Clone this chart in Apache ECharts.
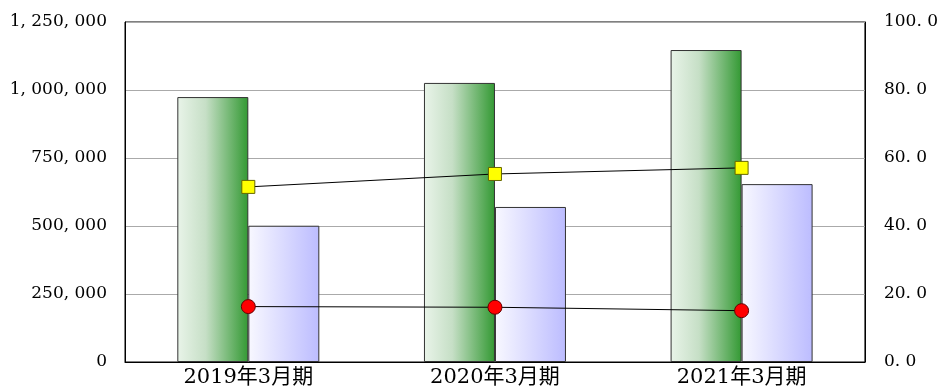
<!DOCTYPE html>
<html>
<head>
<meta charset="utf-8">
<script src="https://cdn.jsdelivr.net/npm/echarts@6/dist/echarts.min.js"></script>
<style>
  html, body { margin: 0; padding: 0; background: #fff; }
  #chart { width: 941px; height: 392px; }
</style>
</head>
<body>
<div id="chart"></div>
<script>
  // data
  const categories = ["2019年3月期", "2020年3月期", "2021年3月期"];
  const greenBars = [974000, 1026000, 1147000];
  const blueBars = [501000, 570000, 654000];
  const squareLine = [51.5, 55.3, 57.1];
  const circleLine = [16.3, 16.1, 15.1];

  const FONT = "'DejaVu Serif', 'Noto Sans CJK JP', serif";

  const chart = echarts.init(document.getElementById("chart"), null, { renderer: "canvas" });
  chart.setOption({
    animation: false,
    grid: { left: 125, right: 75, top: 22, bottom: 30, show: true, borderColor: "#000", borderWidth: 1 },
    xAxis: {
      type: "category", data: categories,
      axisLine: { lineStyle: { color: "#000" } },
      axisTick: { show: false },
      axisLabel: { color: "#000", fontFamily: FONT, fontSize: 21, margin: 5 }
    },
    yAxis: [
      {
        type: "value", min: 0, max: 1250000, interval: 250000,
        axisLine: { show: true, lineStyle: { color: "#000" } },
        axisTick: { show: false },
        axisLabel: {
          color: "#000", fontFamily: FONT, fontSize: 17, margin: 18,
          formatter: (v) => v.toLocaleString("en-US").replace(/,/g, ", ")
        },
        splitLine: { lineStyle: { color: "#aaa" } }
      },
      {
        type: "value", min: 0, max: 100, interval: 20,
        axisLine: { show: true, lineStyle: { color: "#000" } },
        axisTick: { show: false },
        axisLabel: {
          color: "#000", fontFamily: FONT, fontSize: 17, margin: 19,
          formatter: (v) => v.toFixed(1).replace(".", ". ")
        },
        splitLine: { show: false }
      }
    ],
    series: [
      {
        type: "bar", data: greenBars, barWidth: 71, barGap: "0%",
        itemStyle: {
          borderColor: "#333", borderWidth: 1,
          color: new echarts.graphic.LinearGradient(0, 0, 1, 0, [
            { offset: 0, color: "#e9f4e9" },
            { offset: 0.4, color: "#c6dfc6" },
            { offset: 1, color: "#339933" }
          ])
        }
      },
      {
        type: "bar", data: blueBars, barWidth: 71,
        itemStyle: {
          borderColor: "#333", borderWidth: 1,
          color: new echarts.graphic.LinearGradient(0, 0, 1, 0, [
            { offset: 0, color: "#f8f8ff" },
            { offset: 1, color: "#bcbcff" }
          ])
        }
      },
      {
        type: "line", yAxisIndex: 1, data: squareLine, z: 5,
        symbol: "rect", symbolSize: 13,
        lineStyle: { color: "#000", width: 1 },
        itemStyle: { color: "#ffff00", borderColor: "#666600", borderWidth: 1 }
      },
      {
        type: "line", yAxisIndex: 1, data: circleLine, z: 5,
        symbol: "circle", symbolSize: 14,
        lineStyle: { color: "#000", width: 1 },
        itemStyle: { color: "#ff0000", borderColor: "#660000", borderWidth: 1 }
      }
    ]
  });
</script>
</body>
</html>
